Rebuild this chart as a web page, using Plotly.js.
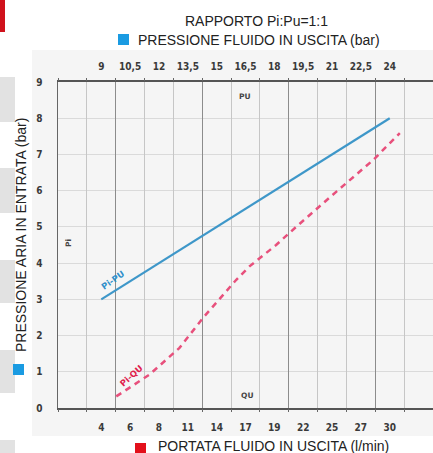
<!DOCTYPE html>
<html><head><meta charset="utf-8">
<script src="https://cdn.plot.ly/plotly-3.0.1.min.js"></script>
<style>html,body{margin:0;padding:0;background:#fff}#chart{width:433px;height:453px}</style>
</head><body><div id="chart"></div>
<script>
// ---- data ----
const qTickLabels = ['4','6','8','11','14','17','19','22','25','27','30'];
const qTickVals   = [4, 6.6, 9.2, 11.8, 14.4, 17, 19.6, 22.2, 24.8, 27.4, 30];
const puTickLabels = ['9','10,5','12','13,5','15','16,5','18','19,5','21','22,5','24'];
const puTickVals   = [9, 10.5, 12, 13.5, 15, 16.5, 18, 19.5, 21, 22.5, 24];
const piTickVals   = [0,1,2,3,4,5,6,7,8,9];
// Pi-PU (blue, top axis)
const puValues = [9, 24];
const piForPu  = [3, 8];
// Pi-QU (red dashed, bottom axis)
const quValues = [5.35, 6.5, 8.34, 11.05, 13.15, 16.17, 17.36, 19.76, 21.6, 25.22, 28.52, 30.91];
const piForQu  = [0.32, 0.55, 0.92, 1.66, 2.48, 3.54, 3.91, 4.5, 5.01, 5.98, 6.85, 7.59];
const gridIdx = [0,1,2,3,4,5,6,7,8,9,10,11,12,13];
const majorGridIdx = [2,5,8,11];

// ---- layout helpers ----
const W=433,H=453,ML=58,MR=0,MT=82,MB=45;
const PW=W-ML-MR, PH=H-MT-MB;
const xp = px => (px-ML)/PW;
const yp = py => (H-MB-py)/PH;
const tickFont = {family:'"DejaVu Sans Condensed", "DejaVu Sans", sans-serif', size:10, color:'#3a3a3a', weight:'bold'};
const titleFont = {family:'"Liberation Sans", Arial, sans-serif', size:14, color:'#222'};
const smallFont = {family:'"DejaVu Sans", sans-serif', size:7.5, color:'#444', weight:'bold'};

const traces = [
  {x:quValues, y:piForQu, xaxis:'x', yaxis:'y', mode:'lines',
   line:{color:'#e8507c', width:2.5, dash:'6px,5px'}, hoverinfo:'skip', showlegend:false},
  {x:puValues, y:piForPu, xaxis:'x2', yaxis:'y', mode:'lines',
   line:{color:'#3e97c9', width:2.2}, hoverinfo:'skip', showlegend:false},
  {x:[], y:[], xaxis:'x3', yaxis:'y', mode:'lines', showlegend:false, hoverinfo:'skip'},
  {x:[], y:[], xaxis:'x4', yaxis:'y', mode:'lines', showlegend:false, hoverinfo:'skip'},
  {x:[], y:[], xaxis:'x5', yaxis:'y', mode:'lines', showlegend:false, hoverinfo:'skip'}
];

function rect(x0,y0,x1,y1,color,layer){
  return {type:'rect', xref:'paper', yref:'paper', x0:xp(x0), x1:xp(x1), y0:yp(y1), y1:yp(y0),
          fillcolor:color, line:{width:0}, layer:layer||'below'};
}
function note(text,px,py,font,angle){
  return {text:text, xref:'paper', yref:'paper', x:xp(px), y:yp(py), xanchor:'center', yanchor:'middle',
          textangle:angle||0, showarrow:false, font:font};
}

const layout = {
  width:W, height:H, margin:{l:ML,r:MR,t:MT,b:MB,pad:0},
  paper_bgcolor:'#ffffff', plot_bgcolor:'rgba(0,0,0,0)',
  showlegend:false,
  xaxis:{range:[0.1,33.9], tickvals:qTickVals, ticktext:qTickLabels, ticks:'', showgrid:false,
         zeroline:false, showline:true, linecolor:'#555', linewidth:2, tickfont:tickFont,
         ticklabelstandoff:9, fixedrange:true},
  xaxis2:{range:[6.75,26.25], overlaying:'x', side:'top', anchor:'y', tickvals:puTickVals, ticktext:puTickLabels,
          ticks:'', showgrid:false, zeroline:false, showline:true, linecolor:'#555', linewidth:2,
          tickfont:tickFont, ticklabelstandoff:6},
  xaxis3:{range:[0,13], overlaying:'x', side:'bottom', anchor:'y', tickvals:gridIdx, showticklabels:false,
          ticks:'outside', ticklen:3, tickcolor:'#666', showgrid:true, gridcolor:'#c6c6c6', gridwidth:1,
          zeroline:false, showline:false},
  xaxis4:{range:[0,13], overlaying:'x', side:'top', anchor:'y', tickvals:gridIdx, showticklabels:false,
          ticks:'outside', ticklen:3, tickcolor:'#666', showgrid:false, zeroline:false, showline:false},
  xaxis5:{range:[0,13], overlaying:'x', side:'bottom', anchor:'y', tickvals:majorGridIdx, showticklabels:false,
          ticks:'', showgrid:true, gridcolor:'#8c8c8c', gridwidth:1, zeroline:false, showline:false},
  yaxis:{range:[0,9], tickvals:piTickVals, ticks:'', showgrid:true, gridcolor:'#dadada', gridwidth:1,
         zeroline:false, showline:true, linecolor:'#666', linewidth:1.5, tickfont:tickFont,
         ticklabelstandoff:12},
  shapes:[
    rect(32,50,433,436,'#f5f5f5'),
    rect(0,0,5,32,'#d0121c'),
    rect(0,77,15,122,'#e2e2e2'),
    rect(0,168,15,213,'#e2e2e2'),
    rect(0,260,15,303,'#e2e2e2'),
    rect(0,350,15,393,'#e2e2e2'),
    rect(0,440,15,453,'#e2e2e2'),
    rect(118,34,129,45,'#1a9be2','above'),
    rect(135,443,146,454,'#e3101b','above'),
    rect(13,364,24,375,'#1a9be2','above')
  ],
  annotations:[
    note('RAPPORTO Pi:Pu=1:1', 256, 21, titleFont),
    {text:'PRESSIONE FLUIDO IN USCITA (bar)', xref:'paper', yref:'paper', x:xp(136), y:yp(40), xanchor:'left', yanchor:'middle', showarrow:false, font:titleFont},
    {text:'PORTATA FLUIDO IN USCITA (l/min)', xref:'paper', yref:'paper', x:xp(156), y:yp(446), xanchor:'left', yanchor:'middle', showarrow:false, font:titleFont},
    {text:'PRESSIONE ARIA IN ENTRATA (bar)', xref:'paper', yref:'paper', x:xp(21), y:yp(354), xanchor:'center', yanchor:'bottom', textangle:-90, showarrow:false, font:titleFont},
    note('PU', 245, 97, smallFont),
    note('QU', 247, 395, smallFont),
    note('Pi', 68, 243, smallFont, -90),
    note('Pi-PU', 113, 280, {family:'"DejaVu Sans", sans-serif', size:8.5, color:'#2f8fca', weight:'bold'}, -35),
    note('Pi-QU', 131, 376, {family:'"DejaVu Sans", sans-serif', size:8.5, color:'#e0204c', weight:'bold'}, -42)
  ]
};

Plotly.newPlot('chart', traces, layout, {displayModeBar:false, staticPlot:true});
</script>
</body></html>
